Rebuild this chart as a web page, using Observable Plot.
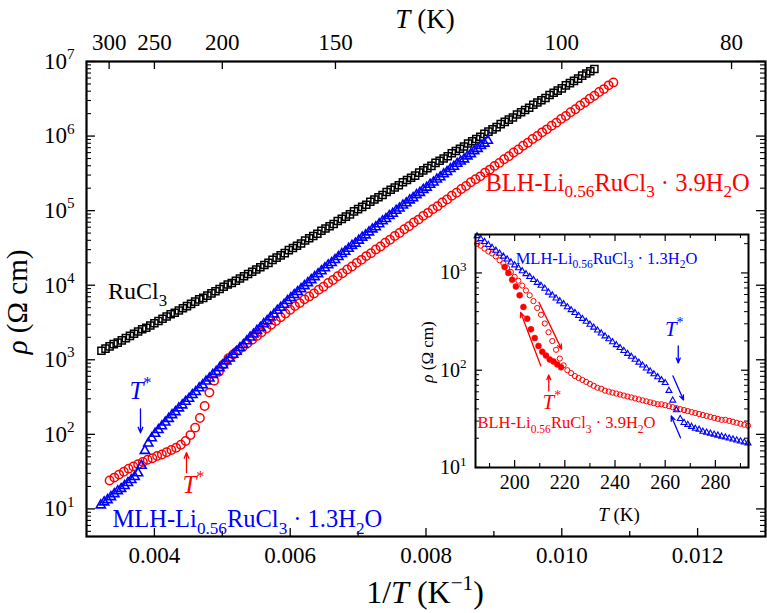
<!DOCTYPE html>
<html><head><meta charset="utf-8">
<script src="https://cdn.jsdelivr.net/npm/d3@7"></script>
<script src="https://cdn.jsdelivr.net/npm/@observablehq/plot@0.6"></script>
<style>
body{margin:0;background:#fff;}
#wrap{position:relative;width:767px;height:613px;overflow:hidden;background:#fff;}
#wrap svg{position:absolute;}
#wrap svg, #wrap svg text, #wrap svg g{font-family:"Liberation Serif","Times New Roman",serif !important;}
</style></head><body><div id="wrap"></div>
<script>
const SERIF = "Liberation Serif";

// ---------- main panel data: 1/T (K^-1) and log10(rho / Ohm cm) ----------
const ruInvT = [0.00322,0.00328,0.00334,0.00340,0.00346,0.00352,0.00358,0.00364,0.00370,0.00376,
0.00382,0.00388,0.00394,0.00400,0.00406,0.00412,0.00418,0.00424,0.00430,0.00436,
0.00442,0.00448,0.00454,0.00460,0.00466,0.00472,0.00478,0.00484,0.00490,0.00496,
0.00502,0.00508,0.00514,0.00520,0.00526,0.00532,0.00538,0.00544,0.00550,0.00556,
0.00562,0.00568,0.00574,0.00580,0.00586,0.00592,0.00598,0.00604,0.00610,0.00616,
0.00622,0.00628,0.00634,0.00640,0.00646,0.00652,0.00658,0.00664,0.00670,0.00676,
0.00682,0.00688,0.00694,0.00700,0.00706,0.00712,0.00718,0.00724,0.00730,0.00736,
0.00742,0.00748,0.00754,0.00760,0.00766,0.00772,0.00778,0.00784,0.00790,0.00796,
0.00802,0.00808,0.00814,0.00820,0.00826,0.00832,0.00838,0.00844,0.00850,0.00856,
0.00862,0.00868,0.00874,0.00880,0.00886,0.00892,0.00898,0.00904,0.00910,0.00916,
0.00922,0.00928,0.00934,0.00940,0.00946,0.00952,0.00958,0.00964,0.00970,0.00976,
0.00982,0.00988,0.00994,0.01000,0.01006,0.01012,0.01018,0.01024,0.01030,0.01036,
0.01042,0.01048];
const ruLgRho = [3.12,3.15,3.18,3.21,3.23,3.26,3.29,3.32,3.35,3.38,
3.41,3.43,3.46,3.49,3.52,3.55,3.58,3.61,3.63,3.66,
3.69,3.72,3.75,3.78,3.81,3.83,3.86,3.89,3.92,3.95,
3.98,4.01,4.03,4.06,4.09,4.12,4.15,4.18,4.21,4.24,
4.27,4.30,4.34,4.37,4.40,4.43,4.47,4.50,4.53,4.56,
4.60,4.63,4.66,4.69,4.73,4.76,4.79,4.82,4.86,4.89,
4.92,4.95,4.99,5.02,5.05,5.08,5.12,5.15,5.18,5.21,
5.25,5.28,5.31,5.34,5.38,5.41,5.44,5.47,5.51,5.54,
5.57,5.60,5.64,5.67,5.70,5.73,5.77,5.80,5.83,5.86,
5.90,5.93,5.96,5.99,6.03,6.06,6.09,6.12,6.16,6.19,
6.22,6.25,6.29,6.32,6.35,6.38,6.42,6.45,6.48,6.51,
6.55,6.58,6.61,6.64,6.68,6.71,6.74,6.77,6.81,6.84,
6.87,6.90];

const blhInvT = [0.00334,0.00341,0.00348,0.00355,0.00362,0.00369,0.00376,0.00383,0.00390,0.00397,
0.00404,0.00411,0.00418,0.00425,0.00432,0.00439,0.00446,0.00453,0.00460,0.00467,
0.00474,0.00481,0.00488,0.00495,0.00502,0.00509,0.00516,0.00523,0.00530,0.00537,
0.00544,0.00551,0.00558,0.00565,0.00572,0.00579,0.00586,0.00593,0.00600,0.00607,
0.00614,0.00621,0.00628,0.00635,0.00642,0.00649,0.00656,0.00663,0.00670,0.00677,
0.00684,0.00691,0.00698,0.00705,0.00712,0.00719,0.00726,0.00733,0.00740,0.00747,
0.00754,0.00761,0.00768,0.00775,0.00782,0.00789,0.00796,0.00803,0.00810,0.00817,
0.00824,0.00831,0.00838,0.00845,0.00852,0.00859,0.00866,0.00873,0.00880,0.00887,
0.00894,0.00901,0.00908,0.00915,0.00922,0.00929,0.00936,0.00943,0.00950,0.00957,
0.00964,0.00971,0.00978,0.00985,0.00992,0.00999,0.01006,0.01013,0.01020,0.01027,
0.01034,0.01041,0.01048,0.01055,0.01062,0.01069,0.01076];
const blhLgRho = [1.38,1.42,1.46,1.50,1.54,1.57,1.60,1.63,1.66,1.68,
1.71,1.73,1.76,1.79,1.82,1.86,1.91,1.99,2.09,2.22,
2.38,2.56,2.72,2.84,2.94,3.02,3.07,3.12,3.17,3.22,
3.27,3.32,3.37,3.42,3.47,3.52,3.57,3.62,3.67,3.72,
3.76,3.81,3.85,3.89,3.94,3.98,4.03,4.07,4.12,4.16,
4.21,4.25,4.30,4.34,4.39,4.43,4.48,4.52,4.57,4.61,
4.66,4.70,4.75,4.79,4.84,4.88,4.93,4.97,5.02,5.06,
5.11,5.15,5.20,5.24,5.29,5.33,5.38,5.42,5.46,5.51,
5.55,5.60,5.64,5.69,5.73,5.78,5.82,5.87,5.91,5.96,
6.00,6.05,6.09,6.14,6.18,6.23,6.27,6.32,6.36,6.41,
6.45,6.50,6.54,6.59,6.63,6.68,6.72];

const mlhInvT = [0.00321,0.00326,0.00331,0.00336,0.00341,0.00346,0.00351,0.00356,0.00361,0.00366,
0.00371,0.00376,0.00381,0.00386,0.00391,0.00396,0.00401,0.00406,0.00411,0.00416,
0.00421,0.00426,0.00431,0.00436,0.00441,0.00446,0.00451,0.00456,0.00461,0.00466,
0.00471,0.00476,0.00481,0.00486,0.00491,0.00496,0.00501,0.00506,0.00511,0.00516,
0.00521,0.00526,0.00531,0.00536,0.00541,0.00546,0.00551,0.00556,0.00561,0.00566,
0.00571,0.00576,0.00581,0.00586,0.00591,0.00596,0.00601,0.00606,0.00611,0.00616,
0.00621,0.00626,0.00631,0.00636,0.00641,0.00646,0.00651,0.00656,0.00661,0.00666,
0.00671,0.00676,0.00681,0.00686,0.00691,0.00696,0.00701,0.00706,0.00711,0.00716,
0.00721,0.00726,0.00731,0.00736,0.00741,0.00746,0.00751,0.00756,0.00761,0.00766,
0.00771,0.00776,0.00781,0.00786,0.00791,0.00796,0.00801,0.00806,0.00811,0.00816,
0.00821,0.00826,0.00831,0.00836,0.00841,0.00846,0.00851,0.00856,0.00861,0.00866,
0.00871,0.00876,0.00881,0.00886,0.00891];
const mlhLgRho = [1.05,1.09,1.12,1.16,1.20,1.24,1.27,1.31,1.35,1.39,
1.43,1.48,1.58,1.78,1.88,1.95,2.01,2.06,2.11,2.16,
2.21,2.26,2.30,2.35,2.39,2.44,2.48,2.53,2.57,2.62,
2.66,2.71,2.75,2.80,2.84,2.89,2.93,2.98,3.02,3.07,
3.11,3.16,3.20,3.25,3.30,3.34,3.39,3.43,3.48,3.52,
3.57,3.61,3.66,3.70,3.74,3.79,3.83,3.87,3.91,3.95,
3.99,4.03,4.07,4.11,4.15,4.19,4.23,4.27,4.30,4.34,
4.38,4.42,4.45,4.49,4.53,4.56,4.60,4.64,4.67,4.71,
4.75,4.78,4.82,4.86,4.89,4.93,4.96,5.00,5.03,5.07,
5.10,5.14,5.17,5.21,5.24,5.28,5.31,5.35,5.38,5.42,
5.45,5.49,5.52,5.56,5.59,5.63,5.66,5.69,5.73,5.76,
5.80,5.83,5.87,5.90,5.94];

// ---------- inset data: T (K) and log10(rho) ----------
const insetT = [185,186.5,188,189.5,191,192.5,194,195.5,197,198.5,
200,201.5,203,204.5,206,207.5,209,210.5,212,213.5,
215,216.5,218,219.5,221,222.5,224,225.5,227,228.5,
230,231.5,233,234.5,236,237.5,239,240.5,242,243.5,
245,246.5,248,249.5,251,252.5,254,255.5,257,258.5,
260,261.5,263,264.5,266,267.5,269,270.5,272,273.5,
275,276.5,278,279.5,281,282.5,284,285.5,287,288.5,
290,291.5,293];
const inMlhLgRho = [3.38,3.35,3.32,3.29,3.26,3.23,3.20,3.17,3.14,3.11,
3.08,3.05,3.02,2.99,2.96,2.93,2.90,2.87,2.84,2.80,
2.77,2.74,2.71,2.68,2.65,2.62,2.59,2.56,2.53,2.50,
2.47,2.44,2.41,2.38,2.35,2.32,2.29,2.26,2.23,2.20,
2.17,2.14,2.11,2.08,2.05,2.02,1.99,1.96,1.93,1.90,
1.87,1.79,1.69,1.59,1.50,1.46,1.44,1.42,1.40,1.39,
1.37,1.36,1.35,1.34,1.33,1.32,1.31,1.30,1.29,1.28,
1.27,1.26,1.25];
const inBlhWarmLgRho = [3.30,3.28,3.25,3.22,3.20,3.17,3.13,3.10,3.05,3.01,
2.96,2.92,2.87,2.82,2.77,2.71,2.64,2.57,2.48,2.39,
2.30,2.21,2.12,2.05,2.00,1.97,1.94,1.92,1.90,1.88,
1.86,1.84,1.82,1.81,1.79,1.78,1.77,1.76,1.75,1.74,
1.73,1.72,1.71,1.70,1.69,1.68,1.67,1.66,1.65,1.65,
1.64,1.63,1.62,1.61,1.60,1.59,1.58,1.57,1.56,1.55,
1.54,1.53,1.52,1.51,1.50,1.49,1.49,1.48,1.47,1.46,
1.45,1.44,1.43];
const inBlhCoolT = [196,197.5,199,200.5,202,203.5,205,206.5,208,209.5,211,212.5,214,215.5,217,218.5];
const inBlhCoolLgRho = [3.06,3.00,2.93,2.86,2.77,2.65,2.53,2.42,2.33,2.25,2.19,2.15,2.11,2.09,2.06,2.03];

// ---------- ticks ----------
const topT = [300, 250, 200, 150, 100, 80];
const xMajor = [0.004, 0.006, 0.008, 0.010, 0.012];
const xMinor = [0.005, 0.007, 0.009, 0.011];
const yMajor = [1e1, 1e2, 1e3, 1e4, 1e5, 1e6, 1e7];
const inXMajor = [200, 220, 240, 260, 280];
const inXMinor = [190, 210, 230, 250, 270, 290];
const inYMajor = [10, 100, 1000];

// ---------- annotations ----------
const mainNotes = [
  {t: "RuCl_{3}", x: 0.003751, lg: 3.913, c: "black", fs: 24, a: "middle"},
  {t: "BLH-Li_{0.56}RuCl_{3} · 3.9H_{2}O", x: 0.008876, lg: 5.374, c: "red", fs: 24.5, a: "start"},
  {t: "MLH-Li_{0.56}RuCl_{3} · 1.3H_{2}O", x: 0.003383, lg: 0.857, c: "blue", fs: 24.5, a: "start"},
  {t: "|{T}^{*}", x: 0.003795, lg: 2.586, c: "blue", fs: 25, a: "middle"},
  {t: "|{T}^{*}", x: 0.004576, lg: 1.326, c: "red", fs: 25, a: "middle"}
];
const mainArrows = [
  {x1: 0.003795, l1: 2.342, x2: 0.003795, l2: 2.020, c: "blue"},
  {x1: 0.004473, l1: 1.487, x2: 0.004473, l2: 1.755, c: "red"}
];
const inNotes = [
  {t: "MLH-Li_{0.56}RuCl_{3} · 1.3H_{2}O", x: 200.4, lg: 3.148, c: "blue", fs: 16.5, a: "start"},
  {t: "BLH-Li_{0.56}RuCl_{3} · 3.9H_{2}O", x: 185.2, lg: 1.457, c: "red", fs: 16.5, a: "start"},
  {t: "|{T}^{*}", x: 214.8, lg: 1.673, c: "red", fs: 21, a: "middle"},
  {t: "|{T}^{*}", x: 263.6, lg: 2.426, c: "blue", fs: 21, a: "middle"}
];
const inArrows = [
  {x1: 213.6, l1: 1.787, x2: 213.6, l2: 1.952, c: "red"},
  {x1: 265.2, l1: 2.251, x2: 265.2, l2: 2.075, c: "blue"},
  {x1: 209.7, l1: 2.697, x2: 218.7, l2: 2.217, c: "red"},
  {x1: 210.4, l1: 2.045, x2: 202.4, l2: 2.594, c: "red"},
  {x1: 263.1, l1: 1.941, x2: 267.3, l2: 1.694, c: "blue"},
  {x1: 266.1, l1: 1.305, x2: 262.4, l2: 1.529, c: "blue"}
];

const rows = (xs, lg) => xs.map((x, i) => ({x, rho: 10 ** lg[i]}));
const isDecade = v => Math.abs(Math.log10(v) - Math.round(Math.log10(v))) < 1e-9;

// ---------- main plot ----------
const W = 767, H = 613, mL = 86, mR = 2, mT = 61, mB = 77;
const pw = W - mL - mR, ph = H - mT - mB;
const mainYDomain = [10 ** 0.63, 1e7];
const yMinor = d3.scaleLog().domain(mainYDomain).ticks().filter(v => !isDecade(v));

const noteMarks = (notes) => notes.map(n => Plot.text([n], {
  x: "x", y: d => 10 ** d.lg, text: "t", fill: n.c, fontSize: n.fs, textAnchor: n.a, fontFamily: SERIF
}));
const arrowMarks = (arr, hl) => ["red", "blue"].map(c => Plot.arrow(arr.filter(a => a.c === c), {
  x1: "x1", y1: d => 10 ** d.l1, x2: "x2", y2: d => 10 ** d.l2, stroke: c, strokeWidth: 1.3, headLength: hl, headAngle: 45
}));

const main = Plot.plot({
  width: W, height: H, marginLeft: mL, marginRight: mR, marginTop: mT, marginBottom: mB,
  style: {fontFamily: SERIF, background: "transparent"},
  x: {domain: [0.003, 0.013]},
  y: {type: "log", domain: mainYDomain},
  marks: [
    Plot.tickX(xMajor, {x: d => d, insetTop: ph - 8, strokeWidth: 1.3}),
    Plot.tickX(xMinor, {x: d => d, insetTop: ph - 5, strokeWidth: 1.3}),
    Plot.tickX(topT, {x: d => 1 / d, insetBottom: ph - 8, strokeWidth: 1.3}),
    Plot.tickY(yMajor, {y: d => d, insetRight: pw - 9, strokeWidth: 1.3}),
    Plot.tickY(yMajor, {y: d => d, insetLeft: pw - 9, strokeWidth: 1.3}),
    Plot.tickY(yMinor, {y: d => d, insetRight: pw - 5, strokeWidth: 1.1}),
    Plot.tickY(yMinor, {y: d => d, insetLeft: pw - 5, strokeWidth: 1.1}),
    Plot.axisX(xMajor, {anchor: "bottom", tickSize: 0, tickPadding: 10, fontSize: 23, fontFamily: SERIF, tickFormat: d3.format(".3f"), label: null}),
    Plot.axisX(topT.map(t => 1 / t), {anchor: "top", tickSize: 0, tickPadding: 12, fontSize: 23, fontFamily: SERIF, tickFormat: d => String(Math.round(1 / d)), label: null}),
    Plot.axisY(yMajor, {anchor: "left", tickSize: 0, tickPadding: 12, fontSize: 23, fontFamily: SERIF, tickFormat: d => `10^{${Math.round(Math.log10(d))}}`, label: null}),
    Plot.dot(rows(blhInvT, blhLgRho), {x: "x", y: "rho", symbol: "circle", r: 4.2, stroke: "red", fill: "none", strokeWidth: 1.5}),
    Plot.dot(rows(ruInvT, ruLgRho), {x: "x", y: "rho", symbol: "square", r: 4, stroke: "black", fill: "none", strokeWidth: 1.5}),
    Plot.dot(rows(mlhInvT, mlhLgRho), {x: "x", y: "rho", symbol: "triangle", r: 3.4, stroke: "blue", fill: "none", strokeWidth: 1.6}),
    ...noteMarks(mainNotes),
    ...arrowMarks(mainArrows, 7),
    Plot.frame({stroke: "black", strokeWidth: 2.2})
  ]
});

// ---------- inset plot ----------
const iW = 340, iH = 310, iL = 60, iR = 7, iT = 10, iB = 67;
const ipw = iW - iL - iR, iph = iH - iT - iB;
const inYDomain = [10, 10 ** 3.395];
const inYMinor = d3.scaleLog().domain(inYDomain).ticks().filter(v => !isDecade(v));
const inset = Plot.plot({
  width: iW, height: iH, marginLeft: iL, marginRight: iR, marginTop: iT, marginBottom: iB,
  style: {fontFamily: SERIF, background: "transparent"},
  x: {domain: [184.4, 293.2]},
  y: {type: "log", domain: inYDomain},
  marks: [
    Plot.tickX(inXMajor, {x: d => d, insetTop: iph - 7, strokeWidth: 1.2}),
    Plot.tickX(inXMajor, {x: d => d, insetBottom: iph - 7, strokeWidth: 1.2}),
    Plot.tickX(inXMinor, {x: d => d, insetTop: iph - 4, strokeWidth: 1.1}),
    Plot.tickX(inXMinor, {x: d => d, insetBottom: iph - 4, strokeWidth: 1.1}),
    Plot.tickY(inYMajor, {y: d => d, insetRight: ipw - 7, strokeWidth: 1.2}),
    Plot.tickY(inYMajor, {y: d => d, insetLeft: ipw - 7, strokeWidth: 1.2}),
    Plot.tickY(inYMinor, {y: d => d, insetRight: ipw - 4, strokeWidth: 1}),
    Plot.tickY(inYMinor, {y: d => d, insetLeft: ipw - 4, strokeWidth: 1}),
    Plot.axisX(inXMajor, {anchor: "bottom", tickSize: 0, tickPadding: 7, fontSize: 20, fontFamily: SERIF, label: null}),
    Plot.axisY(inYMajor, {anchor: "left", tickSize: 0, tickPadding: 9, fontSize: 20, fontFamily: SERIF, tickFormat: d => `10^{${Math.round(Math.log10(d))}}`, label: null}),
    Plot.dot(rows(insetT, inBlhWarmLgRho), {x: "x", y: "rho", symbol: "circle", r: 2.6, stroke: "red", fill: "none", strokeWidth: 1}),
    Plot.dot(rows(inBlhCoolT, inBlhCoolLgRho), {x: "x", y: "rho", symbol: "circle", r: 3, fill: "red", stroke: "red", strokeWidth: 0.5}),
    Plot.dot(rows(insetT, inMlhLgRho), {x: "x", y: "rho", symbol: "triangle", r: 2.2, stroke: "blue", fill: "none", strokeWidth: 1.1}),
    ...noteMarks(inNotes),
    ...arrowMarks(inArrows, 6),
    Plot.frame({stroke: "black", strokeWidth: 2})
  ]
});

const wrap = document.getElementById("wrap");
wrap.appendChild(main); main.style.left = "0px"; main.style.top = "0px";
wrap.appendChild(inset); inset.style.left = "415px"; inset.style.top = "224px";

function addText(svg, x, y, str, fs, rotate) {
  const t = d3.select(svg).append("text").attr("x", x).attr("y", y).attr("font-size", fs)
    .attr("font-family", SERIF).attr("text-anchor", "middle").attr("fill", "black").text(str);
  if (rotate) t.attr("transform", `rotate(-90 ${x} ${y})`);
}
addText(main, 425, 28, "|{T} (K)", 27);
addText(main, 425, 603, "1/|{T} (K^{−1})", 32);
addText(main, 27, 302, "|{ρ} (Ω cm)", 29, true);
addText(inset, 204, 297, "|{T} (K)", 19);
addText(inset, 18, 128, "|{ρ} (Ω cm)", 17, true);

// rich text: _{sub}, ^{sup}, |{italic}
function rich(el) {
  const s = el.textContent;
  if (!/[_^|]\{/.test(s)) return;
  const fs = parseFloat(getComputedStyle(el).fontSize) || 12;
  const parts = []; const re = /([_^|])\{([^}]*)\}/g; let last = 0, m;
  while ((m = re.exec(s))) {
    if (m.index > last) parts.push(["", s.slice(last, m.index)]);
    parts.push([m[1], m[2]]); last = re.lastIndex;
  }
  if (last < s.length) parts.push(["", s.slice(last)]);
  el.textContent = "";
  let cur = 0;
  for (const [t, str] of parts) {
    const ts = document.createElementNS("http://www.w3.org/2000/svg", "tspan");
    let target = 0;
    if (t === "_") { target = 0.26 * fs; ts.setAttribute("font-size", 0.7 * fs); }
    else if (t === "^") { target = -0.42 * fs; ts.setAttribute("font-size", 0.66 * fs); }
    else if (t === "|") { ts.setAttribute("font-style", "italic"); }
    const dy = target - cur;
    if (Math.abs(dy) > 1e-6) ts.setAttribute("dy", dy);
    cur = target;
    ts.textContent = str;
    el.appendChild(ts);
  }
}
[main, inset].forEach(svg => svg.querySelectorAll("text").forEach(rich));
</script></body></html>
